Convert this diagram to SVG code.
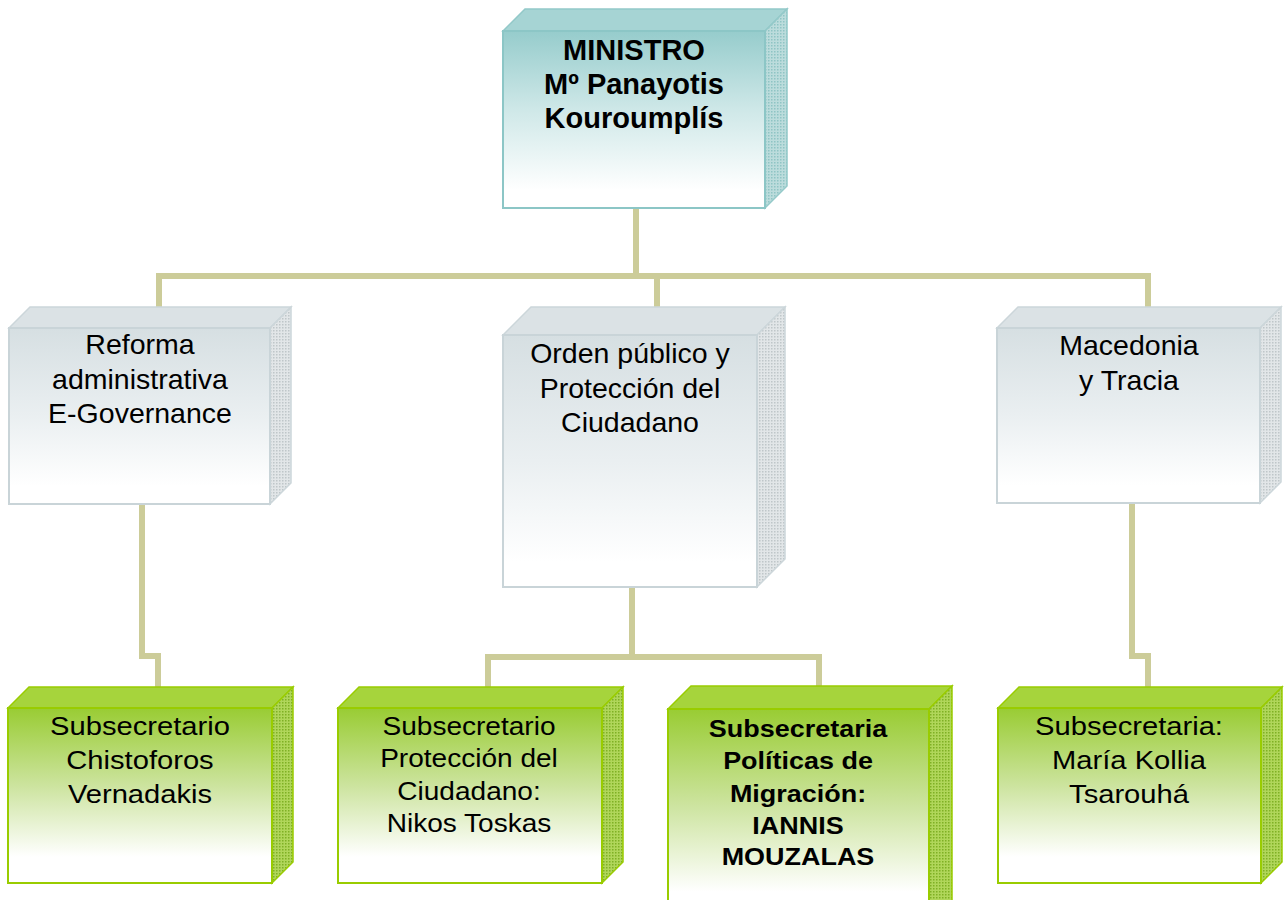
<svg xmlns="http://www.w3.org/2000/svg" width="1288" height="900" viewBox="0 0 1288 900">
<style>
.t{font-family:"Liberation Sans",Arial,sans-serif;fill:#000;text-anchor:middle}
.b{font-weight:bold}
.c{fill:none;stroke:#cccc99;stroke-width:6;stroke-linejoin:miter}
</style>
<defs>
<linearGradient id="gT" x1="0" y1="0" x2="0" y2="1"><stop offset="0" stop-color="#96cccc"/><stop offset="0.45" stop-color="#cfe8e8"/><stop offset="0.9" stop-color="#ffffff"/></linearGradient>
<linearGradient id="gG" x1="0" y1="0" x2="0" y2="1"><stop offset="0" stop-color="#d6dfe2"/><stop offset="0.5" stop-color="#eaeff1"/><stop offset="0.9" stop-color="#ffffff"/></linearGradient>
<linearGradient id="gL" x1="0" y1="0" x2="0" y2="1"><stop offset="0" stop-color="#99cc33"/><stop offset="0.45" stop-color="#cde4a0"/><stop offset="0.85" stop-color="#ffffff"/></linearGradient>
<pattern id="pT" width="3" height="3" patternUnits="userSpaceOnUse"><rect width="3" height="3" fill="#bcdcdc"/><rect width="1.5" height="1.5" fill="#8fc4c4"/></pattern>
<pattern id="pG" width="3" height="3" patternUnits="userSpaceOnUse"><rect width="3" height="3" fill="#e2e6e8"/><rect width="1.5" height="1.5" fill="#bfc6c9"/></pattern>
<pattern id="pL" width="3" height="3" patternUnits="userSpaceOnUse"><rect width="3" height="3" fill="#b0d65a"/><rect width="1.5" height="1.5" fill="#7fb024"/></pattern>
</defs>
<rect width="1288" height="900" fill="#ffffff"/>
<g id="connectors">
<path class="c" d="M636,208 V276 M159,307 V276 H1148 V307 M657,276 V307"/>
<path class="c" d="M142,504 V656 H158 V687"/>
<path class="c" d="M632,587 V657 M488,687 V657 H819 V687"/>
<path class="c" d="M1132,503 V656 H1148 V687"/>
</g>
<g id="minister">
<polygon points="503,31 525,9 787,9 765,31" fill="#a6d4d4" stroke="#93c9c9" stroke-width="1.5"/>
<polygon points="765,31 787,9 787,186 765,208" fill="url(#pT)" stroke="#93c9c9" stroke-width="1.5"/>
<rect x="503" y="31" width="262" height="177" fill="url(#gT)" stroke="#8cc6c6" stroke-width="2"/>
<text class="t b" font-size="29"><tspan x="634" y="60">MINISTRO</tspan><tspan x="634" y="94">Mº Panayotis</tspan><tspan x="634" y="128">Kouroumplís</tspan></text>
</g>
<g id="reforma">
<polygon points="9,328 30,307 291,307 270,328" fill="#dbe2e5" stroke="#ccd6da" stroke-width="1.5"/>
<polygon points="270,328 291,307 291,483 270,504" fill="url(#pG)" stroke="#ccd6da" stroke-width="1.5"/>
<rect x="9" y="328" width="261" height="176" fill="url(#gG)" stroke="#c9d4d8" stroke-width="2"/>
<text class="t" font-size="28.5"><tspan x="140" y="354">Reforma</tspan><tspan x="140" y="388.5">administrativa</tspan><tspan x="140" y="423">E-Governance</tspan></text>
</g>
<g id="orden">
<polygon points="503,335 531,307 785,307 757,335" fill="#dbe2e5" stroke="#ccd6da" stroke-width="1.5"/>
<polygon points="757,335 785,307 785,559 757,587" fill="url(#pG)" stroke="#ccd6da" stroke-width="1.5"/>
<rect x="503" y="335" width="254" height="252" fill="url(#gG)" stroke="#c9d4d8" stroke-width="2"/>
<text class="t" font-size="28.5"><tspan x="630" y="363">Orden público y</tspan><tspan x="630" y="398">Protección del</tspan><tspan x="630" y="432">Ciudadano</tspan></text>
</g>
<g id="macedonia">
<polygon points="997,328 1018,307 1281,307 1260,328" fill="#dbe2e5" stroke="#ccd6da" stroke-width="1.5"/>
<polygon points="1260,328 1281,307 1281,482 1260,503" fill="url(#pG)" stroke="#ccd6da" stroke-width="1.5"/>
<rect x="997" y="328" width="263" height="175" fill="url(#gG)" stroke="#c9d4d8" stroke-width="2"/>
<text class="t" font-size="28.5"><tspan x="1129" y="355">Macedonia</tspan><tspan x="1129" y="390">y Tracia</tspan></text>
</g>
<g id="vernadakis">
<polygon points="8,708 29,687 293,687 272,708" fill="#a6d43c" stroke="#99cc00" stroke-width="1.5"/>
<polygon points="272,708 293,687 293,862 272,883" fill="url(#pL)" stroke="#99cc00" stroke-width="1.5"/>
<rect x="8" y="708" width="264" height="175" fill="url(#gL)" stroke="#99cc00" stroke-width="2"/>
<g transform="translate(140,0) scale(1.1,1)"><text class="t" font-size="26.5"><tspan x="0" y="735">Subsecretario</tspan><tspan x="0" y="769">Chistoforos</tspan><tspan x="0" y="803">Vernadakis</tspan></text></g>
</g>
<g id="toskas">
<polygon points="338,708 359,687 623,687 602,708" fill="#a6d43c" stroke="#99cc00" stroke-width="1.5"/>
<polygon points="602,708 623,687 623,862 602,883" fill="url(#pL)" stroke="#99cc00" stroke-width="1.5"/>
<rect x="338" y="708" width="264" height="175" fill="url(#gL)" stroke="#99cc00" stroke-width="2"/>
<g transform="translate(469,0) scale(1.1,1)"><text class="t" font-size="25.5"><tspan x="0" y="735">Subsecretario</tspan><tspan x="0" y="767.5">Protección del</tspan><tspan x="0" y="800">Ciudadano:</tspan><tspan x="0" y="832.5">Nikos Toskas</tspan></text></g>
</g>
<g id="mouzalas">
<polygon points="668,709 691,686 952,686 929,709" fill="#a6d43c" stroke="#99cc00" stroke-width="1.5"/>
<polygon points="929,709 952,686 952,900 929,923" fill="url(#pL)" stroke="#99cc00" stroke-width="1.5"/>
<rect x="668" y="709" width="261" height="215" fill="url(#gL)" stroke="#99cc00" stroke-width="2"/>
<g transform="translate(798,0) scale(1.1,1)"><text class="t b" font-size="24.5"><tspan x="0" y="737">Subsecretaria</tspan><tspan x="0" y="769.5">Políticas de</tspan><tspan x="0" y="802">Migración:</tspan><tspan x="0" y="834">IANNIS</tspan><tspan x="0" y="865.5">MOUZALAS</tspan></text></g>
</g>
<g id="kollia">
<polygon points="998,708 1019,687 1282,687 1261,708" fill="#a6d43c" stroke="#99cc00" stroke-width="1.5"/>
<polygon points="1261,708 1282,687 1282,862 1261,883" fill="url(#pL)" stroke="#99cc00" stroke-width="1.5"/>
<rect x="998" y="708" width="263" height="175" fill="url(#gL)" stroke="#99cc00" stroke-width="2"/>
<g transform="translate(1129,0) scale(1.1,1)"><text class="t" font-size="26.5"><tspan x="0" y="735">Subsecretaria:</tspan><tspan x="0" y="769">María Kollia</tspan><tspan x="0" y="803">Tsarouhá</tspan></text></g>
</g>
</svg>
